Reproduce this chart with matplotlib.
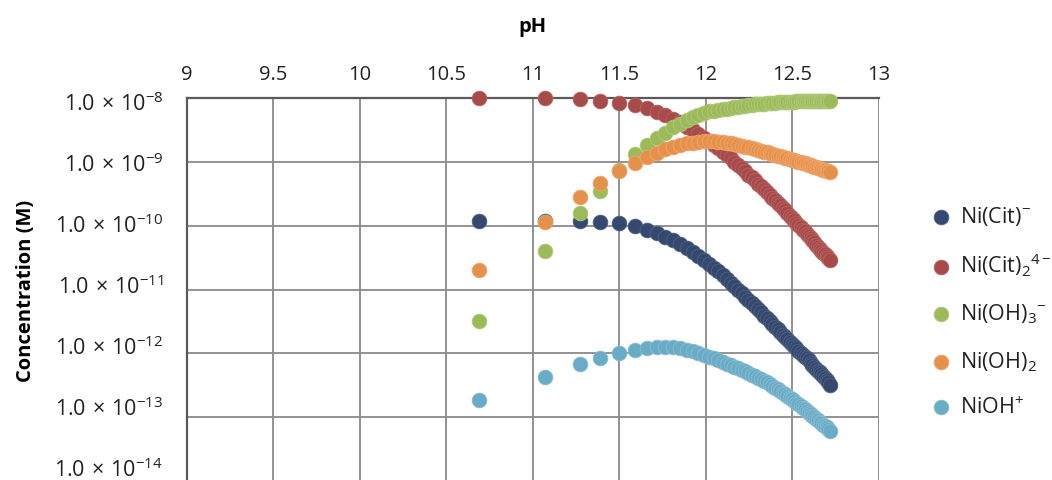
import math
import matplotlib
matplotlib.use("Agg")
import matplotlib.pyplot as plt
from matplotlib.ticker import FixedLocator, FuncFormatter, NullLocator
from matplotlib.transforms import ScaledTranslation

plt.rcParams['font.family'] = ['Open Sans', 'DejaVu Sans']
plt.rcParams['mathtext.fontset'] = 'custom'
plt.rcParams['mathtext.rm'] = 'Open Sans'
plt.rcParams['mathtext.it'] = 'Open Sans:italic'
plt.rcParams['mathtext.bf'] = 'Open Sans:bold'

# pH of each sample
ph = [10.69, 11.07, 11.27, 11.39, 11.50, 11.59, 11.66, 11.715, 11.765, 11.81,
      11.851, 11.889, 11.924, 11.957, 11.988, 12.017, 12.045, 12.071, 12.096, 12.12,
      12.143, 12.165, 12.186, 12.207, 12.227, 12.246, 12.265, 12.283, 12.301, 12.318,
      12.335, 12.352, 12.368, 12.384, 12.399, 12.414, 12.429, 12.443, 12.457, 12.471,
      12.484, 12.497, 12.51, 12.523, 12.535, 12.547, 12.559, 12.571, 12.583, 12.594,
      12.605, 12.616, 12.627, 12.638, 12.648, 12.658, 12.668, 12.678, 12.688, 12.698,
      12.708, 12.718]

# log10 of species concentration (M)
log_ni_cit = [-9.92, -9.92, -9.93, -9.94, -9.96, -10.01, -10.06, -10.12, -10.17, -10.23,
              -10.29, -10.35, -10.41, -10.47, -10.53, -10.60, -10.66, -10.71, -10.77, -10.83,
              -10.89, -10.95, -11.01, -11.06, -11.12, -11.17, -11.21, -11.26, -11.31, -11.36,
              -11.41, -11.45, -11.49, -11.54, -11.58, -11.62, -11.66, -11.71, -11.74, -11.78,
              -11.82, -11.85, -11.89, -11.92, -11.96, -11.99, -12.02, -12.05, -12.08, -12.11,
              -12.15, -12.18, -12.21, -12.24, -12.27, -12.30, -12.33, -12.36, -12.39, -12.42,
              -12.45, -12.49]

log_ni_cit2 = [-8.00, -8.00, -8.02, -8.04, -8.07, -8.11, -8.16, -8.215, -8.27, -8.33,
               -8.38, -8.45, -8.50, -8.56, -8.62, -8.68, -8.74, -8.79, -8.84, -8.89,
               -8.94, -9.00, -9.05, -9.10, -9.15, -9.20, -9.24, -9.29, -9.34, -9.38,
               -9.43, -9.47, -9.52, -9.56, -9.60, -9.64, -9.68, -9.73, -9.76, -9.80,
               -9.84, -9.88, -9.91, -9.95, -9.99, -10.02, -10.06, -10.09, -10.13, -10.16,
               -10.20, -10.23, -10.26, -10.30, -10.33, -10.36, -10.39, -10.42, -10.45, -10.48,
               -10.51, -10.54]

log_ni_oh3 = [-11.50, -10.39, -9.80, -9.45, -9.13, -8.88, -8.73, -8.63, -8.54, -8.46,
              -8.40, -8.34, -8.29, -8.26, -8.23, -8.21, -8.195, -8.185, -8.175, -8.165,
              -8.155, -8.145, -8.135, -8.128, -8.12, -8.112, -8.105, -8.10, -8.095, -8.09,
              -8.086, -8.082, -8.078, -8.075, -8.072, -8.069, -8.066, -8.064, -8.062, -8.06,
              -8.058, -8.056, -8.055, -8.053, -8.052, -8.051, -8.05, -8.049, -8.048, -8.047,
              -8.046, -8.046, -8.045, -8.044, -8.044, -8.043, -8.043, -8.042, -8.042, -8.041,
              -8.041, -8.04]

log_ni_oh2 = [-10.70, -9.94, -9.55, -9.33, -9.15, -9.02, -8.93, -8.86, -8.80, -8.76,
              -8.73, -8.71, -8.70, -8.69, -8.68, -8.68, -8.68, -8.685, -8.69, -8.70,
              -8.71, -8.72, -8.735, -8.745, -8.76, -8.77, -8.785, -8.80, -8.81, -8.825,
              -8.84, -8.85, -8.865, -8.875, -8.89, -8.90, -8.91, -8.925, -8.935, -8.945,
              -8.955, -8.965, -8.975, -8.985, -8.995, -9.005, -9.015, -9.025, -9.035, -9.045,
              -9.055, -9.065, -9.075, -9.08, -9.09, -9.10, -9.11, -9.12, -9.13, -9.14,
              -9.15, -9.16]

log_ni_oh = [-12.73, -12.37, -12.17, -12.07, -12.00, -11.95, -11.92, -11.90, -11.90, -11.905,
             -11.92, -11.94, -11.97, -11.995, -12.02, -12.055, -12.08, -12.11, -12.14, -12.16,
             -12.19, -12.21, -12.235, -12.26, -12.28, -12.31, -12.335, -12.36, -12.38, -12.405,
             -12.43, -12.455, -12.48, -12.51, -12.54, -12.56, -12.59, -12.62, -12.64, -12.67,
             -12.70, -12.72, -12.75, -12.78, -12.80, -12.83, -12.85, -12.88, -12.90, -12.93,
             -12.95, -12.98, -13.00, -13.03, -13.05, -13.07, -13.09, -13.12, -13.14, -13.16,
             -13.19, -13.21]

series = [
    ("Ni(Cit)$^{-}$", log_ni_cit, "#35496f", "#4d6187"),
    ("Ni(Cit)$_2{}^{4-}$", log_ni_cit2, "#a64a4a", "#ba6464"),
    ("Ni(OH)$_3{}^{-}$", log_ni_oh3, "#9cba5a", "#b0ca79"),
    ("Ni(OH)$_2$", log_ni_oh2, "#e6914b", "#efa66b"),
    ("NiOH$^{+}$", log_ni_oh, "#6aabc6", "#88bdd4"),
]

x_ticks = [9, 9.5, 10, 10.5, 11, 11.5, 12, 12.5, 13]
y_exps = [-14, -13, -12, -11, -10, -9, -8]

fig = plt.figure(figsize=(10.52, 4.81), dpi=100)
ax = fig.add_axes([0.1775, -0.002, 0.658, 0.796])

for label, logs, face, edge in series:
    conc = [10.0 ** v for v in logs]
    ax.scatter(ph, conc, s=112, color=face, edgecolors=edge, linewidths=0.6,
               label=label, zorder=3, clip_on=False)

ax.set_yscale('log')
ax.set_xlim(9, 13)
ax.set_ylim(1e-14, 1e-8)

ax.xaxis.set_major_locator(FixedLocator(x_ticks))
ax.xaxis.set_major_formatter(FuncFormatter(lambda v, p: f"{v:g}"))
ax.yaxis.set_major_locator(FixedLocator([10.0 ** e for e in y_exps]))
ax.yaxis.set_minor_locator(NullLocator())
ax.yaxis.set_major_formatter(
    FuncFormatter(lambda v, p: r"$1.0\,\times\,10^{%d}$" % round(math.log10(v))))

ax.xaxis.tick_top()
ax.tick_params(axis='x', length=0, pad=10, labelsize=14.5, colors='#222222')
ax.tick_params(axis='y', length=0, pad=17, labelsize=15.5, colors='#222222')

ax.grid(True, which='major', color='#8a8a8a', linewidth=1.3, zorder=0)
ax.set_axisbelow(True)
for side in ('right', 'bottom'):
    ax.spines[side].set_visible(False)
for side in ('top', 'left'):
    ax.spines[side].set_color('#5a5a5a')
    ax.spines[side].set_linewidth(1.6)

ax.set_xlabel('pH', fontsize=14.5, fontweight='bold')
ax.xaxis.set_label_position('top')
ax.xaxis.set_label_coords(0.5, 1.188)
ax.xaxis.label.set_verticalalignment('center')
ax.set_ylabel('Concentration (M)', fontsize=14.5, fontweight='bold')
ax.yaxis.set_label_coords(-0.232, 0.5)
ax.yaxis.label.set_verticalalignment('center')

# y tick labels sit slightly closer together than the gridlines, so the
# lowest one stays inside the figure
ylabels = ax.get_yticklabels()
for i, t in enumerate(ylabels):
    rank_from_top = len(ylabels) - 1 - i
    dy_px = -3.0 + 2.9 * rank_from_top
    t.set_transform(t.get_transform() +
                    ScaledTranslation(0, dy_px / fig.dpi, fig.dpi_scale_trans))

leg = ax.legend(loc='upper left', bbox_to_anchor=(1.062, 0.745), frameon=False,
                fontsize=15.5, labelspacing=1.1, handletextpad=0.35,
                borderaxespad=0, scatterpoints=1, handlelength=1.0)
for t in leg.get_texts():
    t.set_color('#222222')

fig.savefig('out.png', dpi=100)
